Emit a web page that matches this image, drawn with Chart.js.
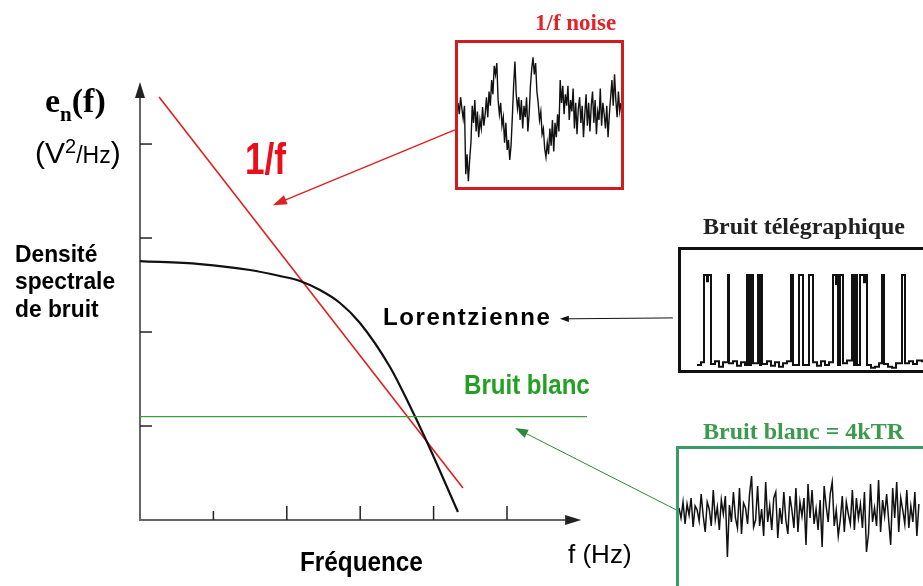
<!DOCTYPE html>
<html>
<head>
<meta charset="utf-8">
<title>Densité spectrale de bruit</title>
<script src="https://cdn.jsdelivr.net/npm/chart.js"></script>
<style>
    body { margin: 0; width: 923px; height: 586px; overflow: hidden; background: #fff; position: relative;
           font-family: "Liberation Sans", Arial, sans-serif; }
    #main { position: absolute; left: 0; top: 0; }
    .lbl { position: absolute; white-space: nowrap; line-height: 1; transform-origin: left top; }
    .serif { font-family: "Liberation Serif", "Times New Roman", serif; font-weight: bold; }
    .box { position: absolute; box-sizing: border-box; background: #fff; }
    .box canvas { display: block; }
</style>
</head>
<body>

<canvas id="main" width="923" height="586"></canvas>

<div class="box" style="left:455px; top:40px; width:169px; height:150px; border:3px solid #d01c1c;">
    <canvas id="insetFlicker" width="163" height="144"></canvas>
</div>
<div class="box" style="left:678px; top:247px; width:250px; height:126px; border:3px solid #111;">
    <canvas id="insetTelegraph" width="244" height="120"></canvas>
</div>
<div class="box" style="left:676px; top:446px; width:260px; height:150px; border:3px solid #3a9a6a;">
    <canvas id="insetWhite" width="254" height="144"></canvas>
</div>

<div class="lbl serif" style="left:45px; top:84px; font-size:34px;">e<span style="font-size:21px; position:relative; top:9px;">n</span>(f)</div>
<div class="lbl" style="left:35px; top:138px; font-size:30px;">(V<span style="font-size:20px; position:relative; top:-10px;">2</span><span style="font-size:23px;">/Hz</span>)</div>
<div class="lbl" style="left:15px; top:242px; font-size:24px; font-weight:bold; transform:scaleX(0.95);">Densité</div>
<div class="lbl" style="left:15px; top:269px; font-size:24px; font-weight:bold; transform:scaleX(0.95);">spectrale</div>
<div class="lbl" style="left:15px; top:297px; font-size:24px; font-weight:bold; transform:scaleX(0.95);">de bruit</div>
<div class="lbl" style="left:245px; top:137px; font-size:44px; font-weight:bold; color:#e8101a; transform:scaleX(0.8);">1/f</div>
<div class="lbl" style="left:383px; top:305px; font-size:24px; font-weight:bold; letter-spacing:1.6px;">Lorentzienne</div>
<div class="lbl" style="left:464px; top:371px; font-size:28px; font-weight:bold; color:#22a022; transform:scaleX(0.86);">Bruit blanc</div>
<div class="lbl" style="left:300px; top:549px; font-size:27px; font-weight:bold; transform:scaleX(0.9);">Fréquence</div>
<div class="lbl" style="left:568px; top:541px; font-size:26px;">f (Hz)</div>
<div class="lbl serif" style="left:535px; top:11px; font-size:23px; color:#e0242a;">1/f noise</div>
<div class="lbl serif" style="left:703px; top:214px; font-size:24px; color:#222;">Bruit télégraphique</div>
<div class="lbl serif" style="left:703px; top:419px; font-size:24px; color:#3c9a4c;">Bruit blanc = 4kTR</div>

<script>
    // main diagram (x: frequency, y: spectral density, arbitrary units)
    const xTicks = [1, 2, 3, 4, 5];
    const yTicks = [1, 2, 3, 4];
    const xAxisEnd = 6.01;
    const yAxisTop = 4.66;

    const oneOverF_x = [0.26, 4.40];
    const oneOverF_y = [4.50, 0.34];

    const lorentz_x = [0, 0.817, 1.499, 1.907, 2.180, 2.452, 2.725, 2.997, 3.406, 3.638, 3.910, 4.332];
    const lorentz_y = [2.755, 2.723, 2.660, 2.596, 2.543, 2.447, 2.309, 2.096, 1.628, 1.277, 0.830, 0.085];

    const white_x = [0, 6.09];
    const white_y = [1.10, 1.10];

    // annotation arrows: tail -> head
    const arrowTail = [[4.29, 4.15], [7.26, 2.15], [7.30, 0.11]];
    const arrowHead = [[1.81, 3.35], [5.72, 2.14], [5.11, 0.98]];

    // inset traces
    const flickerNoise = [58, 50, 62, 54, 47, 56, 8, 22, 3, 18,
                          30, 56, 44, 60, 38, 52, 34, 46,
                          40, 55, 42, 50, 62, 48, 66, 56,
                          74, 64, 84, 78, 86, 60,
                          50, 58, 42, 48, 30, 44, 25, 32, 18, 28,
                          48, 70, 87, 64, 54, 62,
                          46, 60, 40, 56, 48, 62, 38, 50,
                          70, 82, 90, 78, 86, 66,
                          58, 46, 52, 36, 40, 26, 20, 30,
                          22, 40, 28, 46, 24, 44, 34, 50, 38,
                          74, 58, 70, 50, 64, 56, 70, 46, 60,
                          52, 68, 40, 58, 36, 54, 62, 44, 56,
                          34, 50, 64, 42, 58, 38, 56, 66, 44,
                          60, 36, 52, 46, 68, 42, 58, 50, 40,
                          56, 34, 50, 62, 74, 56, 78, 60, 48, 66, 52, 58];

    const telegraphT = [16, 20, 23, 26, 27, 30, 34, 38, 42, 47, 48, 52, 56, 60, 64, 66, 67, 68, 69, 70,
                        72, 77, 79, 80, 81, 86, 90, 94, 98, 102, 106, 110, 112, 118, 122, 128, 132, 136, 140, 144,
                        148, 152, 155, 156, 157, 159, 162, 166, 171, 173, 174, 176, 179, 183, 184, 186, 190, 194, 198, 201,
                        203, 207, 211, 215, 221, 224, 228, 232, 236, 241];
    const telegraphLevel = [0, 0.03, 1, 0.93, 1, 0.01, 0.04, -0.02, 0.03, 1, 0.02, 0.04, -0.01, 0.03, 0, 1, 0, 1, 0, 1,
                            0.02, 1, 0, 1, 0.01, 0.04, -0.01, 0.03, -0.02, 0.02, 0.04, 1, 0, 1, 0, 1, 0.03, -0.01, 0.04, 0,
                            0.03, 1, 0.9, 1, 0, 1, 0.02, 0.05, 1, 0, 1, 0, 1, 0.92, 1, 0, -0.03, -0.02, 0.02, 1,
                            0.01, -0.02, -0.03, 0.02, 1, 0.02, 0.04, 0.01, 0.05, 0.03];

    const whiteNoise = [4, -6, 10, -12, 8, -3, 14, -15, 6, 2, -9, 18, -4, -20, 10, 3, -14, 22, -8, 5,
                        -18, 12, -2, 16, -45, 7, -10, 20, -6, -16, 24, -22, 9, 4, -12, 18, 36, -15, -8, 26,
                        -14, 3, -24, 30, -10, 6, -18, 14, 20, -26, 4, -12, 20, -8, -22, 16, 2, -16, 24, -20,
                        10, -4, 14, -33, 28, -6, 22, -12, 3, -18, 12, -35, 26, 6, -10, 18, 30, -14, 2, -24,
                        -8, 16, -20, 10, -2, -12, 22, -18, 14, -6, 8, -16, 20, -40, -22, 28, -10, 4, -14, 32,
                        -20, 12, -4, 18, -8, -33, 24, -6, 30, -20, 14, 2, -12, 22, -16, 6, -10, 20, -24, 8];

    const zip = (xs, ys) => xs.map((x, i) => ({ x: x, y: ys[i] }));

    function drawArrow(ctx, x0, y0, x1, y1, color, size, width) {
        const a = Math.atan2(y1 - y0, x1 - x0);
        ctx.strokeStyle = color;
        ctx.fillStyle = color;
        ctx.lineWidth = width;
        ctx.beginPath();
        ctx.moveTo(x0, y0);
        ctx.lineTo(x1 - Math.cos(a) * size * 0.8, y1 - Math.sin(a) * size * 0.8);
        ctx.stroke();
        ctx.beginPath();
        ctx.moveTo(x1, y1);
        ctx.lineTo(x1 - size * Math.cos(a) + size * 0.35 * Math.sin(a), y1 - size * Math.sin(a) - size * 0.35 * Math.cos(a));
        ctx.lineTo(x1 - size * Math.cos(a) - size * 0.35 * Math.sin(a), y1 - size * Math.sin(a) + size * 0.35 * Math.cos(a));
        ctx.closePath();
        ctx.fill();
    }

    const axesPlugin = {
        id: 'axesPlugin',
        beforeDatasetsDraw(chart) {
            const { ctx, scales: { x, y } } = chart;
            const x0 = x.getPixelForValue(0), y0 = y.getPixelForValue(0);
            const xe = x.getPixelForValue(xAxisEnd), yt = y.getPixelForValue(yAxisTop);
            ctx.save();
            ctx.strokeStyle = '#666';
            ctx.fillStyle = '#222';
            ctx.lineWidth = 2;
            ctx.beginPath();
            ctx.moveTo(x0, yt + 10);
            ctx.lineTo(x0, y0);
            ctx.lineTo(xe - 10, y0);
            ctx.stroke();
            // arrow heads of the axes
            ctx.beginPath();
            ctx.moveTo(x0, yt);
            ctx.lineTo(x0 - 5, yt + 16);
            ctx.lineTo(x0 + 5, yt + 16);
            ctx.closePath();
            ctx.fill();
            ctx.beginPath();
            ctx.moveTo(xe, y0);
            ctx.lineTo(xe - 16, y0 - 5);
            ctx.lineTo(xe - 16, y0 + 5);
            ctx.closePath();
            ctx.fill();
            // ticks
            ctx.strokeStyle = '#222';
            ctx.lineWidth = 1.5;
            yTicks.forEach(v => {
                const p = y.getPixelForValue(v);
                ctx.beginPath(); ctx.moveTo(x0, p); ctx.lineTo(x0 + 12, p); ctx.stroke();
            });
            xTicks.forEach((v, i) => {
                const p = x.getPixelForValue(v);
                ctx.beginPath(); ctx.moveTo(p, y0); ctx.lineTo(p, y0 - (i === 0 ? 9 : 14)); ctx.stroke();
            });
            ctx.restore();
        },
        afterDatasetsDraw(chart) {
            const { ctx, scales: { x, y } } = chart;
            const colors = ['#e02020', '#111', '#2a8a3a'];
            const sizes = [14, 9, 13];
            const widths = [1.4, 1, 1];
            ctx.save();
            arrowTail.forEach((t, i) => {
                const h = arrowHead[i];
                drawArrow(ctx, x.getPixelForValue(t[0]), y.getPixelForValue(t[1]),
                          x.getPixelForValue(h[0]), y.getPixelForValue(h[1]), colors[i], sizes[i], widths[i]);
            });
            ctx.restore();
        }
    };

    new Chart(document.getElementById('main'), {
        type: 'scatter',
        data: {
            datasets: [
                { data: zip(white_x, white_y), showLine: true, borderColor: '#3aa03a', borderWidth: 1.2, pointRadius: 0 },
                { data: zip(lorentz_x, lorentz_y), showLine: true, borderColor: '#111', borderWidth: 2.2, pointRadius: 0,
                  cubicInterpolationMode: 'monotone' },
                { data: zip(oneOverF_x, oneOverF_y), showLine: true, borderColor: '#e02020', borderWidth: 1.6, pointRadius: 0 }
            ]
        },
        options: {
            responsive: false,
            devicePixelRatio: 1,
            animation: false,
            layout: { padding: { left: 140, right: 336, top: 82, bottom: 66 } },
            plugins: { legend: { display: false }, tooltip: { enabled: false } },
            scales: {
                x: { type: 'linear', display: false, min: 0, max: 6.09 },
                y: { type: 'linear', display: false, min: 0, max: 4.66 }
            }
        },
        plugins: [axesPlugin]
    });

    function inset(id, points, xMin, xMax, yMin, yMax, stepped, width) {
        new Chart(document.getElementById(id), {
            type: 'line',
            data: {
                datasets: [{ data: points, borderColor: '#111', borderWidth: width, pointRadius: 0,
                             tension: 0, stepped: stepped }]
            },
            options: {
                responsive: false,
                devicePixelRatio: 1,
                animation: false,
                layout: { padding: 0 },
                plugins: { legend: { display: false }, tooltip: { enabled: false } },
                scales: {
                    x: { type: 'linear', display: false, min: xMin, max: xMax },
                    y: { type: 'linear', display: false, min: yMin, max: yMax }
                }
            }
        });
    }

    inset('insetFlicker', flickerNoise.map((v, i) => ({ x: i, y: v })), 0, 126, -1, 100, false, 1.4);
    inset('insetTelegraph', zip(telegraphT, telegraphLevel), 0, 244, -0.056, 1.278, 'before', 2);
    inset('insetWhite', whiteNoise.map((v, i) => ({ x: i, y: v })), 0, 126, -81, 63, false, 1.5);
</script>

</body>
</html>
